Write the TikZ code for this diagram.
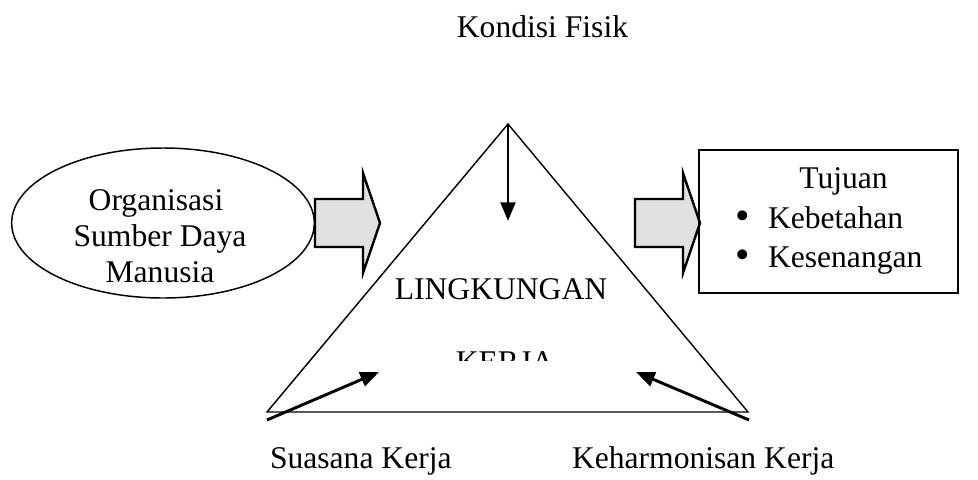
\documentclass[tikz,border=0pt]{standalone}
\usepackage{fontspec}
\setmainfont{Liberation Serif}
\usetikzlibrary{arrows.meta,shapes.geometric}
\begin{document}
\begin{tikzpicture}[x=0.75pt,y=-0.75pt,
  txt/.style={font=\fontsize{23.7}{27}\selectfont, inner sep=0pt, outer sep=0pt},
  edge line/.style={line width=1.1pt},
  ptr/.style={line width=2.2pt,-{Triangle[length=14pt,width=11pt]}},
  blockarrow/.style={draw,line width=1.8pt,fill=black!12,line join=miter},
  bul/.style={txt,font=\fontsize{31}{31}\selectfont},
]
\useasboundingbox (0,0) rectangle (978,479);

% title
\node[txt,anchor=base] (kondisi) at (542.5,37) {Kondisi Fisik};

% ellipse
\node[draw,ellipse,edge line,minimum width=227pt,minimum height=112.5pt,inner sep=0pt] (org) at (163,223) {};
\node[txt,anchor=base] (org1) at (156,210) {Organisasi};
\node[txt,anchor=base] (org2) at (160,246) {Sumber Daya};
\node[txt,anchor=base] (org3) at (160,282) {Manusia};

% block arrows
\draw[blockarrow] (315,199) -- (363,199) -- (363,173) -- (380,223) -- (363,273) -- (363,247) -- (315,247) -- cycle;
\draw[blockarrow] (635,199) -- (683,199) -- (683,173) -- (700,223) -- (683,273) -- (683,247) -- (635,247) -- cycle;

% goal box
\node[draw,line width=1.4pt,minimum width=194.25pt,minimum height=107.25pt,inner sep=0pt] (goal) at (828.5,221.5) {};
\node[txt,anchor=base] (tujuan) at (843.5,188) {Tujuan};
\node[bul,anchor=base] (b1) at (743,229) {\textbullet};
\node[txt,anchor=base west] (keb) at (768,228) {Kebetahan};
\node[bul,anchor=base] (b2) at (743,268) {\textbullet};
\node[txt,anchor=base west] (kes) at (768,267) {Kesenangan};

% triangle
\coordinate (T) at (508,124);
\coordinate (BL) at (267,412);
\coordinate (BR) at (748,412);
\draw[edge line,line join=miter] (T) -- (BL) -- (BR) -- cycle;

% center text
\node[txt,anchor=base] (ling) at (501,299) {LINGKUNGAN};
\begin{scope}
  \clip (380,250) rectangle (640,360);
  \node[txt,anchor=base] (kerja) at (505,372) {KERJA};
\end{scope}

% arrows
\coordinate (Tend) at (508,221);
\draw[ptr] (T) -- (Tend);
\coordinate (sL) at (267,420);
\coordinate (eL) at (379,372);
\draw[ptr] (sL) -- (eL);
\coordinate (sR) at (749,420);
\coordinate (eR) at (636,372);
\draw[ptr] (sR) -- (eR);

% bottom labels
\node[txt,anchor=base west] (suasana) at (270,468) {Suasana Kerja};
\node[txt,anchor=base west] (kehar) at (572,468) {Keharmonisan Kerja};
\end{tikzpicture}
\end{document}
